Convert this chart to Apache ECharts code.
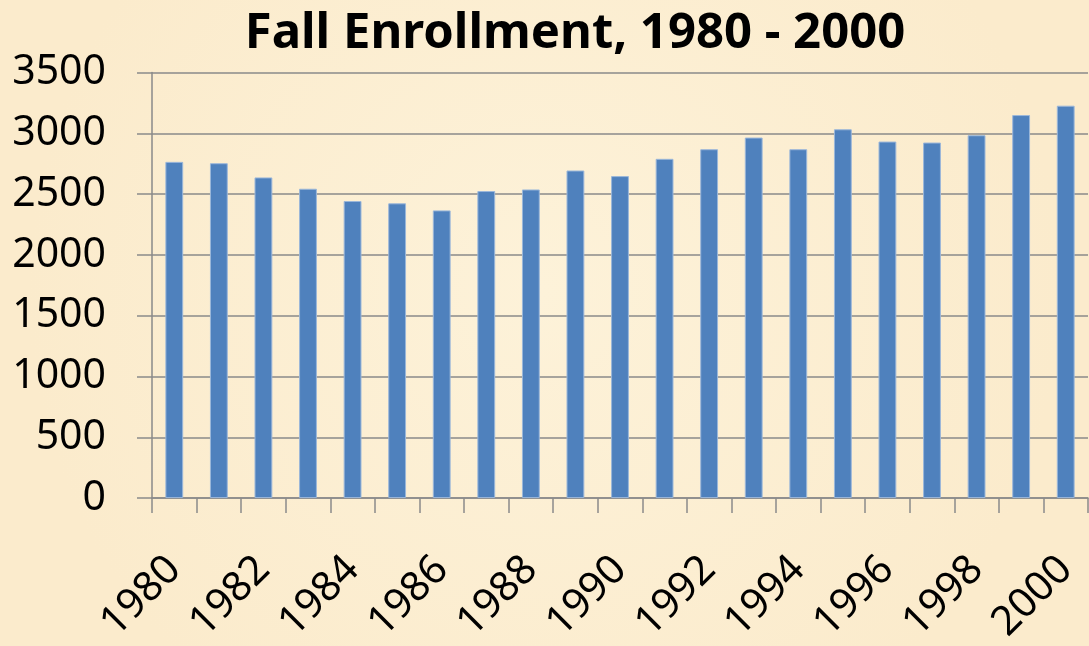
<!DOCTYPE html>
<html>
<head>
<meta charset="utf-8">
<style>
  html, body { margin: 0; padding: 0; background: #fcf0d6; }
  #chart { width: 1089px; height: 646px; }
</style>
<script src="https://cdn.jsdelivr.net/npm/echarts@6/dist/echarts.min.js"></script>
</head>
<body>
<div id="chart"></div>
<script>
// Fall enrollment by year
const years = ['1980','1981','1982','1983','1984','1985','1986','1987','1988','1989','1990',
               '1991','1992','1993','1994','1995','1996','1997','1998','1999','2000'];
const enrollment = [2765, 2754, 2637, 2544, 2443, 2424, 2366, 2525, 2538, 2694, 2648,
                    2790, 2869, 2965, 2869, 3033, 2932, 2924, 2984, 3150, 3227];
const yTicks = { min: 0, max: 3500, interval: 500 };

const FONT = 'Noto Sans, Open Sans, sans-serif';
const GRID_COLOR = '#8a8a8a';

const chart = echarts.init(document.getElementById('chart'), null, { renderer: 'canvas' });
chart.setOption({
  backgroundColor: {
    type: 'radial', x: 0.5, y: 0.45, r: 0.8,
    colorStops: [
      { offset: 0, color: '#fdf2d9' },
      { offset: 1, color: '#fbebcc' }
    ]
  },
  animation: false,
  title: {
    text: 'Fall Enrollment, 1980 - 2000',
    left: 570, top: 5, textAlign: 'center',
    textStyle: { fontFamily: FONT, fontWeight: 'bold', fontSize: 49, color: '#000' }
  },
  grid: { left: 152, right: 1, top: 72.5, bottom: 147, containLabel: false },
  xAxis: {
    type: 'category',
    data: years,
    boundaryGap: true,
    axisLine: { show: true, lineStyle: { color: GRID_COLOR, width: 1.5 } },
    axisTick: { show: true, length: 15, interval: 0, alignWithLabel: false,
                lineStyle: { color: GRID_COLOR, width: 1.5 } },
    axisLabel: {
      interval: 1, rotate: 45, margin: 65,
      fontFamily: FONT, fontSize: 41, color: '#000'
    },
    splitLine: { show: false }
  },
  yAxis: {
    type: 'value',
    min: yTicks.min, max: yTicks.max, interval: yTicks.interval,
    axisLine: { show: true, lineStyle: { color: GRID_COLOR, width: 1.5 } },
    axisTick: { show: true, length: 15, inside: false, lineStyle: { color: GRID_COLOR, width: 1.5 } },
    axisLabel: { margin: 46, fontFamily: FONT, fontSize: 41, color: '#000',
                 formatter: (v) => String(v) },
    splitLine: { show: true, lineStyle: { color: GRID_COLOR, width: 1.5 } }
  },
  series: [{
    type: 'bar',
    data: enrollment,
    barWidth: '40%',
    itemStyle: { color: '#4f81bd', borderColor: '#9bb7da', borderWidth: 1 }
  }]
});
</script>
</body>
</html>
